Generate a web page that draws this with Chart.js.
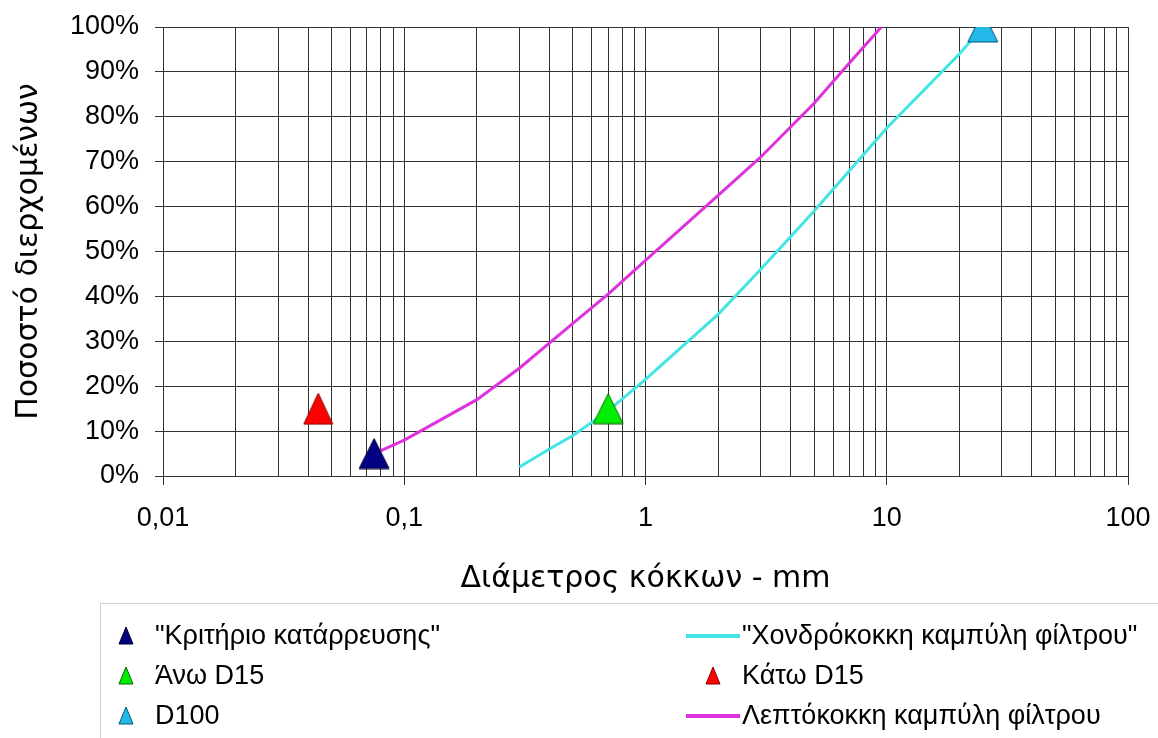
<!DOCTYPE html>
<html>
<head>
<meta charset="utf-8">
<script src="https://cdn.jsdelivr.net/npm/chart.js@4.4.0/dist/chart.umd.min.js"></script>
<style>
html, body { margin: 0; padding: 0; background: #fff; }
</style>
</head>
<body>
<canvas id="chart" width="1158" height="738"></canvas>
<script>
// axis labels
const xTickValues = [0.01, 0.1, 1, 10, 100];
const xTickLabels = ['0,01', '0,1', '1', '10', '100'];
const yTickLabels = ['0%', '10%', '20%', '30%', '40%', '50%', '60%', '70%', '80%', '90%', '100%'];

// single points (diameter mm, % passing)
const collapseSize = [0.075];
const collapsePass = [5];
const upperD15Size = [0.7];
const upperD15Pass = [15];
const lowerD15Size = [0.044];
const lowerD15Pass = [15];
const d100Size = [25];
const d100Pass = [100];

// filter curves
const coarseSize = [0.3, 0.4, 0.5, 0.7, 1, 2, 3, 5, 7, 10, 20, 25];
const coarsePass = [2, 6, 9, 14.5, 21.5, 36, 46, 59, 68, 77.5, 94, 100];
const fineSize = [0.075, 0.1, 0.2, 0.3, 0.5, 0.7, 1, 2, 3, 5, 7, 9.5];
const finePass = [5, 8, 17, 24, 34, 40.5, 48, 62.5, 71, 83, 92, 100];

const FONT = '"Liberation Sans", Arial, sans-serif';
const TITLE_FONT = '"DejaVu Sans", Verdana, sans-serif';

function pts(xs, ys) {
    return xs.map((x, i) => ({ x: x, y: ys[i] }));
}

// excel-like triangle marker
function triangle(fill, stroke, w, h) {
    const c = document.createElement('canvas');
    c.width = w + 2;
    c.height = h + 2;
    const g = c.getContext('2d');
    g.beginPath();
    g.moveTo((w + 2) / 2, 1);
    g.lineTo(w + 1, h + 1);
    g.lineTo(1, h + 1);
    g.closePath();
    g.fillStyle = fill;
    g.fill();
    g.strokeStyle = stroke;
    g.lineWidth = 1;
    g.stroke();
    return c;
}

// every 1..9 x 10^n line of the log grid
const gridValues = [];
for (let e = -2; e <= 1; e++) {
    for (let m = 1; m <= 9; m++) {
        gridValues.push(+(m * Math.pow(10, e)).toPrecision(4));
    }
}
gridValues.push(100);

function majorIndex(v) {
    return xTickValues.findIndex(t => Math.abs(t - v) / t < 1e-6);
}

const datasets = [
    {
        label: '"Κριτήριο κατάρρευσης"',
        data: pts(collapseSize, collapsePass),
        pointStyle: triangle('#000080', '#000033', 30, 30),
        color: '#000080', stroke: '#000033'
    },
    {
        label: 'Άνω D15',
        data: pts(upperD15Size, upperD15Pass),
        pointStyle: triangle('#00ee00', '#006600', 30, 30),
        color: '#00ee00', stroke: '#006600'
    },
    {
        label: 'D100',
        data: pts(d100Size, d100Pass),
        pointStyle: triangle('#22b8e8', '#005577', 30, 30),
        color: '#22b8e8', stroke: '#005577'
    },
    {
        label: 'Κάτω D15',
        data: pts(lowerD15Size, lowerD15Pass),
        pointStyle: triangle('#ff0000', '#880000', 29, 31),
        color: '#ff0000', stroke: '#880000'
    },
    {
        label: '"Χονδρόκοκκη καμπύλη φίλτρου"',
        data: pts(coarseSize, coarsePass),
        showLine: true, pointRadius: 0,
        borderColor: '#44e4e4', borderWidth: 3,
        isLine: true, color: '#44e4e4'
    },
    {
        label: 'Λεπτόκοκκη καμπύλη φίλτρου',
        data: pts(fineSize, finePass),
        showLine: true, pointRadius: 0,
        borderColor: '#dd33dd', borderWidth: 3,
        isLine: true, color: '#dd33dd'
    }
];

// legend laid out like the excel one: two columns, three rows
const legendSlots = [
    { ds: 0, col: 0, row: 0 }, { ds: 4, col: 1, row: 0 },
    { ds: 1, col: 0, row: 1 }, { ds: 3, col: 1, row: 1 },
    { ds: 2, col: 0, row: 2 }, { ds: 5, col: 1, row: 2 }
];
const legendCols = [126, 713];
const legendRows = [636, 676, 716];

const gridLegend = {
    id: 'gridLegend',
    afterDraw(chart) {
        const ctx = chart.ctx;
        ctx.save();
        ctx.strokeStyle = '#cfcfcf';
        ctx.lineWidth = 1;
        ctx.strokeRect(100.5, 603.5, 1100, 200);
        ctx.font = '27px ' + FONT;
        ctx.textBaseline = 'middle';
        legendSlots.forEach(s => {
            const d = chart.data.datasets[s.ds];
            const x = legendCols[s.col];
            const y = legendRows[s.row];
            if (d.isLine) {
                ctx.strokeStyle = d.color;
                ctx.lineWidth = 4;
                ctx.beginPath();
                ctx.moveTo(x - 27, y);
                ctx.lineTo(x + 27, y);
                ctx.stroke();
            } else {
                ctx.beginPath();
                ctx.moveTo(x, y - 9);
                ctx.lineTo(x + 7, y + 8);
                ctx.lineTo(x - 7, y + 8);
                ctx.closePath();
                ctx.fillStyle = d.color;
                ctx.fill();
                ctx.strokeStyle = d.stroke;
                ctx.lineWidth = 1;
                ctx.stroke();
            }
            ctx.fillStyle = '#000';
            ctx.fillText(d.label, x + 29, y + 1);
        });
        ctx.restore();
    }
};

new Chart(document.getElementById('chart'), {
    type: 'scatter',
    data: { datasets: datasets },
    options: {
        responsive: false,
        animation: false,
        devicePixelRatio: 1,
        layout: { padding: { top: 27, right: 30, bottom: 138, left: 0 } },
        plugins: {
            legend: { display: false },
            tooltip: { enabled: false }
        },
        scales: {
            x: {
                type: 'logarithmic',
                min: 0.01,
                max: 100,
                afterBuildTicks: scale => {
                    scale.ticks = gridValues.map(v => ({ value: v, major: majorIndex(v) >= 0 }));
                },
                afterFit: scale => {
                    scale.height = 124;
                    scale.paddingLeft = 0;
                    scale.paddingRight = 0;
                },
                ticks: {
                    autoSkip: false,
                    maxRotation: 0,
                    padding: 17,
                    color: '#000',
                    font: { family: FONT, size: 27 },
                    callback: v => {
                        const i = majorIndex(v);
                        return i >= 0 ? xTickLabels[i] : '';
                    }
                },
                grid: {
                    color: '#333',
                    lineWidth: 1,
                    tickLength: 9,
                    tickColor: c => (c.tick && majorIndex(c.tick.value) >= 0) ? '#333' : 'rgba(0,0,0,0)'
                },
                border: { color: '#333' },
                title: {
                    display: true,
                    text: 'Διάμετρος κόκκων - mm',
                    color: '#000',
                    font: { family: TITLE_FONT, size: 30 },
                    padding: { top: 0, bottom: 3 }
                }
            },
            y: {
                min: 0,
                max: 100,
                afterFit: scale => {
                    scale.width = 163;
                    scale.paddingTop = 0;
                    scale.paddingBottom = 0;
                },
                ticks: {
                    stepSize: 10,
                    padding: 16,
                    color: '#000',
                    font: { family: FONT, size: 27 },
                    callback: v => yTickLabels[Math.round(v / 10)]
                },
                grid: {
                    color: '#333',
                    lineWidth: 1,
                    tickLength: 8
                },
                border: { color: '#333' },
                title: {
                    display: true,
                    text: 'Ποσοστό διερχομένων',
                    color: '#000',
                    font: { family: TITLE_FONT, size: 30 },
                    padding: { top: 11, bottom: 0 }
                }
            }
        }
    },
    plugins: [gridLegend]
});
</script>
</body>
</html>
